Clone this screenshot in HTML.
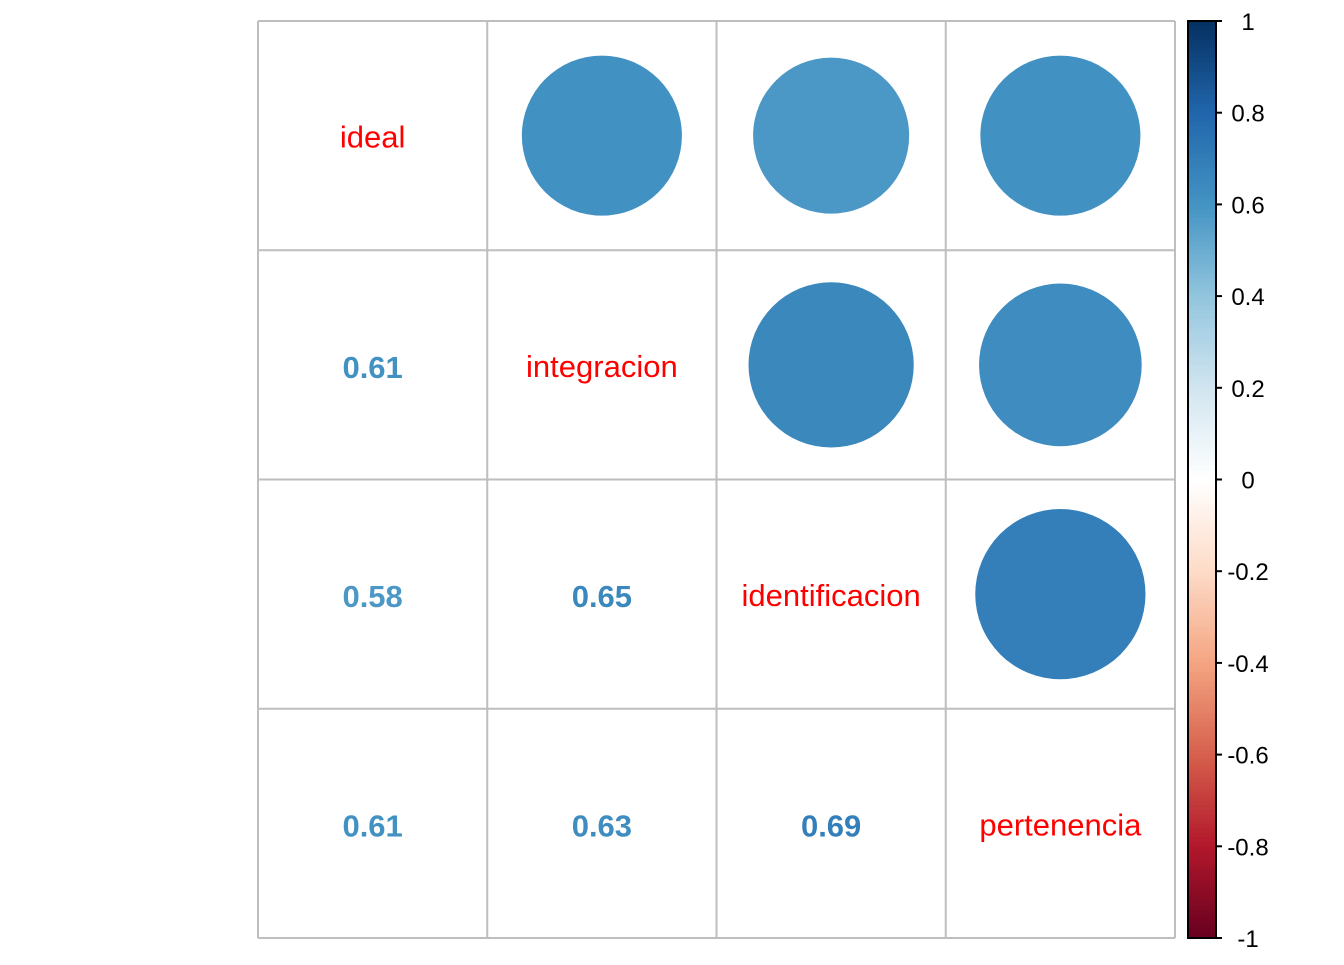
<!DOCTYPE html>
<html><head><meta charset="utf-8"><style>
html,body{margin:0;padding:0;background:#fff;}
svg text{font-family:"Liberation Sans",Arial,sans-serif;}
</style></head><body>
<svg id="chart" width="1344" height="960" xmlns="http://www.w3.org/2000/svg"></svg>
<script>
const variables = ["ideal","integracion","identificacion","pertenencia"];
const corrRow0 = [1, 0.61, 0.58, 0.61];
const corrRow1 = [0.61, 1, 0.65, 0.63];
const corrRow2 = [0.58, 0.65, 1, 0.69];
const corrRow3 = [0.61, 0.63, 0.69, 1];
const colorbarTicks = [1,0.8,0.6,0.4,0.2,0,-0.2,-0.4,-0.6,-0.8,-1];
const palette = ["#67001F","#B2182B","#D6604D","#F4A582","#FDDBC7","#FFFFFF","#D1E5F0","#92C5DE","#4393C3","#2166AC","#053061"];

const corr = [corrRow0,corrRow1,corrRow2,corrRow3];
const NS="http://www.w3.org/2000/svg";
const svg=document.getElementById('chart');
const x0=258,y0=21,size=917,n=variables.length,cw=size/n;
function hex(h){return [1,3,5].map(i=>parseInt(h.substr(i,2),16));}
function col(v){
  const t=(v+1)/2*(palette.length-1);
  const i=Math.min(Math.floor(t),palette.length-2), f=t-i;
  const a=hex(palette[i]),b=hex(palette[i+1]);
  return 'rgb('+a.map((c,k)=>Math.round(c+(b[k]-c)*f)).join(',')+')';
}
function el(tag,attrs){const e=document.createElementNS(NS,tag);for(const k in attrs)e.setAttribute(k,attrs[k]);svg.appendChild(e);return e;}
const cx=j=>x0+cw*(j+0.5), cy=i=>y0+cw*(i+0.5);
const yScale=v=>y0+(1-v)/2*size;

for(let k=0;k<=n;k++){
  let l=el('line',{x1:x0+k*cw,x2:x0+k*cw,y1:y0,y2:y0+size,stroke:'#BEBEBE','stroke-width':2});
  
  
  l=el('line',{y1:y0+k*cw,y2:y0+k*cw,x1:x0,x2:x0+size,stroke:'#BEBEBE','stroke-width':2});
  
  
}
for(let i=0;i<n;i++)for(let j=0;j<n;j++){
  const v=corr[i][j];
  if(i===j){
    const t=el('text',{x:cx(j),y:cy(i)+12,'text-anchor':'middle','font-size':31,fill:'#FF0000'});
    t.textContent=variables[i];
    
    
  } else if(j>i){
    const c=el('circle',{cx:cx(j),cy:cy(i),r:Math.sqrt(Math.abs(v))*0.447*cw,fill:col(v)});
    
    
  } else {
    const t=el('text',{x:cx(j),y:cy(i)+13,'text-anchor':'middle','font-size':31,'font-weight':'bold',fill:col(v)});
    t.textContent=v.toFixed(2);
    
    
  }
}
const bx=1188,bw=28,steps=200;
for(let s=0;s<steps;s++){
  const v1=1-2*s/steps,v2=1-2*(s+1)/steps;
  const r=el('rect',{x:bx,y:yScale(v1),width:bw,height:yScale(v2)-yScale(v1)+0.6,fill:col((v1+v2)/2)});
  
  
}
const br=el('rect',{x:bx,y:y0,width:bw,height:size,fill:'none',stroke:'#000','stroke-width':2});


colorbarTicks.forEach(v=>{
  const y=yScale(v);
  const l=el('line',{x1:bx+bw,x2:bx+bw+6,y1:y,y2:y,stroke:'#000','stroke-width':2});
  
  
  const t=el('text',{x:1248,y:y+9,'text-anchor':'middle','font-size':24,fill:'#000'});
  t.textContent=String(v);
  
  
});
</script>
</body></html>
